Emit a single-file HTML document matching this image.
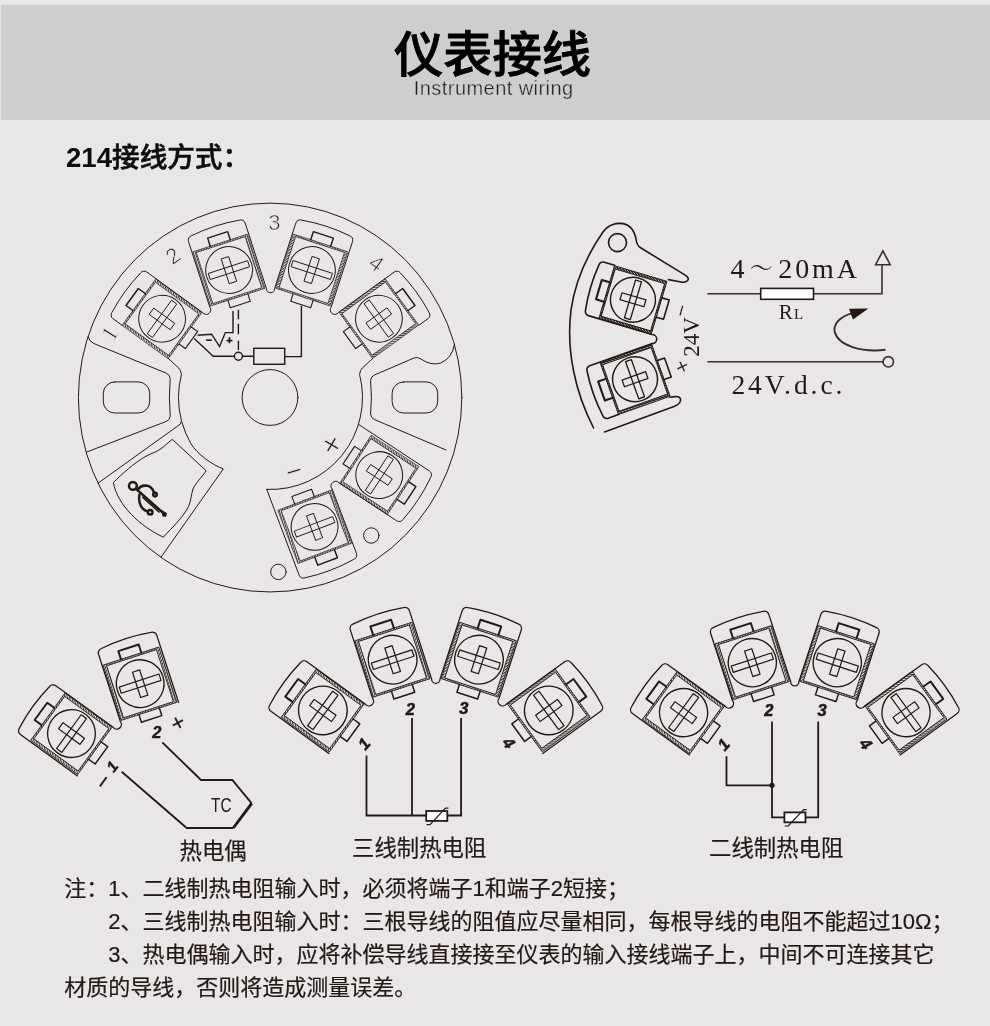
<!DOCTYPE html>
<html lang="zh-CN"><head><meta charset="utf-8"><title>仪表接线</title>
<style>
html,body{margin:0;padding:0}
body{width:990px;height:1026px;overflow:hidden;background:#e8e6e7;position:relative;font-family:"Liberation Sans","Noto Sans CJK SC",sans-serif;color:#1c1a1a}
.band{position:absolute;left:1px;top:5px;width:989px;height:115px;background:#cfcdce}
.t1{position:absolute;left:-2.5px;width:990px;text-align:center;top:22px;font-size:49.3px;line-height:66px;font-weight:500;color:#000;letter-spacing:0;-webkit-text-stroke:.85px #000}
.t2{position:absolute;left:-1.3px;width:990px;text-align:center;top:75px;font-size:20px;line-height:26px;color:#222;letter-spacing:.44px;-webkit-text-stroke:.35px #cfcdce}
.sub{position:absolute;left:66px;top:137.6px;font-size:27.6px;line-height:40px;font-weight:500;color:#0d0d0d;white-space:nowrap;-webkit-text-stroke:.6px #0d0d0d}
.cap{position:absolute;font-size:22.4px;line-height:30px;white-space:nowrap;color:#231815;-webkit-text-stroke:.2px #231815}
.note{position:absolute;left:64.3px;font-size:22px;line-height:33px;white-space:nowrap;color:#231815;-webkit-text-stroke:.2px #231815}
svg{position:absolute;left:0;top:0}
svg text{font-family:"Liberation Sans","Noto Sans CJK SC",sans-serif;fill:#231815}
.sf{font-family:"Liberation Serif","Noto Serif CJK SC",serif}
.wrap{position:absolute;left:0;top:0;width:990px;height:1026px;will-change:transform;background:#e8e6e7}
</style></head><body><div class="wrap">
<div class="band"></div>
<div class="t1">仪表接线</div>
<div class="t2">Instrument wiring</div>
<div class="sub"><span style="font-weight:700;-webkit-text-stroke:0">214</span>接线方式：</div>

<svg width="990" height="1026" viewBox="0 0 990 1026">
<defs><pattern id="hatch" patternUnits="userSpaceOnUse" width="2.1" height="2.1" patternTransform="rotate(40)"><rect width="0.95" height="2.1" fill="#3e3735"/></pattern><pattern id="hatch2" patternUnits="userSpaceOnUse" width="2.1" height="2.1" patternTransform="rotate(40)"><rect width="1.3" height="2.1" fill="#231815"/></pattern>
<g id="t" fill="none" stroke="#231815">
<path d="M-28.5,-28.5h57v57h-57z M-25.5,-26.8h51v53.6h-51z" fill="#dcd9d8" fill-rule="evenodd" stroke="none"/>
<path d="M-28.5,-28.5h57v57h-57z M-25.5,-26.8h51v53.6h-51z" fill="url(#hatch)" fill-rule="evenodd" stroke-width="0.60"/>
<circle r="23.4" stroke-width="1.00"/>
<rect x="-20.5" y="-3.2" width="41" height="6.4" stroke-width="0.90"/>
<rect x="-3.7" y="-13" width="7.4" height="26" stroke-width="0.90"/>
<path d="M-10.5,-28.5v-8.5h21v8.5" stroke-width="1.45"/>
<path d="M-10.5,28.5v7.8h21v-7.8" stroke-width="1.10"/>
</g>
<g id="tb" fill="none" stroke="#231815">
<path d="M-28.5,-28.5h57v57h-57z M-25.5,-26.8h51v53.6h-51z" fill="#dcd9d8" fill-rule="evenodd" stroke="none"/>
<path d="M-28.5,-28.5h57v57h-57z M-25.5,-26.8h51v53.6h-51z" fill="url(#hatch)" fill-rule="evenodd" stroke-width="0.78"/>
<circle r="23.4" stroke-width="1.30"/>
<rect x="-20.5" y="-3.2" width="41" height="6.4" stroke-width="1.17"/>
<rect x="-3.7" y="-13" width="7.4" height="26" stroke-width="1.17"/>
<path d="M-10.5,-28.5v-8.5h21v8.5" stroke-width="1.89"/>
<path d="M-10.5,28.5v7.8h21v-7.8" stroke-width="1.43"/>
</g>
<g id="tc" fill="none" stroke="#231815">
<path d="M-28.5,-28.5h57v57h-57z M-25.5,-26.8h51v53.6h-51z" fill="#b4b0af" fill-rule="evenodd" stroke="none"/>
<path d="M-28.5,-28.5h57v57h-57z M-25.5,-26.8h51v53.6h-51z" fill="url(#hatch2)" fill-rule="evenodd" stroke-width="0.90"/>
<circle r="23.4" stroke-width="1.50"/>
<rect x="-20.5" y="-3.2" width="41" height="6.4" stroke-width="1.35"/>
<rect x="-3.7" y="-13" width="7.4" height="26" stroke-width="1.35"/>
<path d="M-10.5,-28.5v-8.5h21v8.5" stroke-width="2.17"/>
<path d="M-10.5,28.5v7.8h21v-7.8" stroke-width="1.65"/>
</g>
</defs>
<g fill="none" stroke="#231815" stroke-width="1" stroke-linejoin="round" stroke-linecap="round">
<ellipse cx="270.1" cy="397.55" rx="191.7" ry="194.4"/>
<circle cx="270" cy="397.5" r="27.9"/>
<use href="#t" transform="translate(270.5,397.5) rotate(-54) translate(0,-134) scale(1)"/>
<use href="#t" transform="translate(270.5,397.5) rotate(-18) translate(0,-134) scale(1)"/>
<use href="#t" transform="translate(270.5,397.5) rotate(18) translate(0,-134) scale(1)"/>
<use href="#t" transform="translate(270.5,397.5) rotate(54) translate(0,-134) scale(1)"/>
<use href="#t" transform="translate(267.2,401.5) rotate(123.3) translate(0,-134) scale(1)"/>
<use href="#t" transform="translate(267.2,401.5) rotate(159.3) translate(0,-134) scale(1)"/>
<path d="M122.11,325.28 L112.96,318.64 A4.5,4.5 0 0 1 111.97,312.36 A180,180 0 0 1 140.54,273.04 A4.5,4.5 0 0 1 146.82,272.04 L202.72,312.66 A4.49,4.49 0 0 0 209.8,307.13 L188.45,241.42 A4.5,4.5 0 0 1 191.34,235.74 A180,180 0 0 1 239.46,220.11 A4.5,4.5 0 0 1 245.13,223 L266.49,288.72 A4.01,4.01 0 0 0 274.51,288.72 L295.87,223 A4.5,4.5 0 0 1 301.54,220.11 A180,180 0 0 1 349.66,235.74 A4.5,4.5 0 0 1 352.55,241.42 L331.2,307.13 A4.49,4.49 0 0 0 338.28,312.66 L394.18,272.04 A4.5,4.5 0 0 1 400.46,273.04 A180,180 0 0 1 429.03,312.36 A4.5,4.5 0 0 1 428.04,318.64 L418.89,325.28"/>
<path d="M358.52,424.4 L429.48,471.01 A4.5,4.5 0 0 1 430.77,477.24 A180,180 0 0 1 402.99,519.53 A4.5,4.5 0 0 1 396.76,520.82 L339.01,482.89 A4.59,4.59 0 0 0 332.09,488.91 L356.51,553.55 A4.5,4.5 0 0 1 353.89,559.35 A180,180 0 0 1 304.97,577.83 A4.5,4.5 0 0 1 299.17,575.21 L266.75,489.43"/>
<path d="M168.4,358.55 L178.6,367.9 Q180.8,369.8 181.43,374.47 A92,92 0 0 0 181.43,420.53 Q181.7,424.2 177.5,426.2 L98.1,483.1"/>
<path d="M181.8,421.93 A92,92 0 0 0 190.83,443.5 C196.8,453.9 212.5,465 223.3,468.9 L161.2,556.9"/>
<path d="M372.6,358.55 L362.4,367.9 Q360.2,369.8 359.57,374.47 A92,92 0 0 1 266.75,489.43"/>
<path d="M88,336.6 Q89.3,341.7 94,343.6 L166.3,373.2 Q170,374.8 170.2,378.6 Q168.6,397.5 170.2,416.2 Q170,420 166.3,421.4 L86.8,452"/>
<path d="M445.8,449.9 L374.6,419.6 Q370.8,418 370.6,414 Q372.2,397.5 370.6,380.5 Q370.8,376.6 374.4,375 L413.5,358.2 Q417.5,356.4 421,359 Q431,366 440.5,363 Q452,358.5 454.5,344.6"/>
<rect x="103.3" y="381.9" width="46.4" height="31.1" rx="11.5"/>
<rect x="392.1" y="381.9" width="45.6" height="31.1" rx="11.5"/>
<circle cx="278.4" cy="571.9" r="7.7"/><circle cx="371.3" cy="535.5" r="7.7"/>
<path d="M172.6,439.6 L206.2,470.8 C201,478 195,484 193,489 C191,495 191,501 188.5,506.5 C184,516 172,528 163.3,537.1 C141,527 117,505 113.4,482.5 C122,474 134,463 146,456.2 C152,453 157,452 161.7,448.2 Z"/>
</g>
<g fill="none" stroke="#231815" stroke-width="2.5" stroke-linecap="round" stroke-linejoin="round">
<circle cx="132.9" cy="485.9" r="3.9"/>
<path d="M135.8,488.6 L163,512.8"/>
<path d="M137.6,490.2 C139.5,486.6 143.5,485.2 147.2,485.8 C150.4,486.4 152.6,489 153.8,492"/>
<path d="M139.4,494.6 C138.6,500 139.6,505 142.6,508.4 C144.2,510.2 146,511 147.6,511.6"/>
<path d="M142.6,497.2 L159,512" stroke-width="1.6"/>
<circle cx="155" cy="494.6" r="1.8"/><circle cx="150.2" cy="512.2" r="2.3"/>
<path d="M162.2,511 L166.4,513.6 L165.6,516.2 L163,516 Z" fill="#231815" stroke-width="1.2"/>
</g>
<g fill="none" stroke="#231815" stroke-width="1.4" stroke-linejoin="miter">
<path d="M233,311 V332.6 H225.3 L219.6,346.6 L211.6,334.2 L197.6,335.2"/>
<path d="M194.2,338.6 L213.2,356.2 H234.4 M242.4,356.2 H253.8 M284.7,356.6 H301.4 V305.8"/>
<path d="M238.4,309.8 V350" stroke-dasharray="9.5,4.5,10.5,6.5,12,0"/>
<circle cx="238.4" cy="356.2" r="4"/>
<rect x="253.8" y="348.3" width="30.9" height="16"/>
</g>
<text transform="translate(108.9,333.3) rotate(-58)" y="8.28" font-size="23" font-weight="normal" text-anchor="middle" stroke="#e8e6e7" stroke-width="0.6" paint-order="fill" class="sf">1</text>
<text transform="translate(172.9,255.6) rotate(-36)" y="7.92" font-size="22" font-weight="normal" text-anchor="middle" stroke="#e8e6e7" stroke-width="0.7" paint-order="fill" >2</text>
<text transform="translate(274.4,222.2) rotate(0)" y="7.92" font-size="22" font-weight="normal" text-anchor="middle" stroke="#e8e6e7" stroke-width="0.7" paint-order="fill" >3</text>
<text transform="translate(376.7,262.9) rotate(36)" y="7.92" font-size="22" font-weight="normal" text-anchor="middle" stroke="#e8e6e7" stroke-width="0.7" paint-order="fill" >4</text>
<text transform="translate(331.5,444.7) rotate(31)" y="10.72" font-size="32" font-weight="normal" text-anchor="middle" stroke="#e8e6e7" stroke-width="0.85" paint-order="fill" >+</text>
<text transform="translate(293.8,471.3) rotate(-16.5)" y="9.38" font-size="28" font-weight="normal" text-anchor="middle" stroke="#e8e6e7" stroke-width="0.7" paint-order="fill" >−</text>
<text transform="translate(209,340.4) rotate(0)" y="3.96" font-size="11" font-weight="bold" text-anchor="middle" class="" stroke="#231815" stroke-width=".3">−</text>
<text transform="translate(229.5,340.4) rotate(0)" y="3.96" font-size="11" font-weight="bold" text-anchor="middle" class="" stroke="#231815" stroke-width=".3">+</text>
<g fill="none" stroke="#231815" stroke-width="1.6" stroke-linejoin="round" stroke-linecap="round">
<use href="#tc" transform="translate(756.3,336.3) rotate(-73.5) translate(0,-128.64) scale(0.96)"/>
<use href="#tc" transform="translate(756.3,336.3) rotate(-109.5) translate(0,-128.64) scale(0.96)"/>
<path d="M618.54,414.62 L608.32,418.24 A4.32,4.32 0 0 1 602.8,415.61 A172.8,172.8 0 0 1 587.1,371.27 A4.32,4.32 0 0 1 589.73,365.75 L652.26,343.61 A4.58,4.58 0 0 0 652.02,334.45 L588.42,315.61 A4.32,4.32 0 0 1 585.5,310.24 A172.8,172.8 0 0 1 598.86,265.13 A4.32,4.32 0 0 1 604.23,262.22 L614.63,265.3"/>
<path d="M593.6,428 C575,392 566,350 571,310 C575,283 587,255 603,232 C608,225 616,222.6 623,223.6 C631,225 635,232 636.4,241 Q637,245.6 641,248 L685.6,275.4 Q689.6,278 687.6,280.6 Q685.6,283 681,282 L668.5,279.6"/>
<circle cx="617.5" cy="242.6" r="9"/>
<path d="M604.5,432 L674,406.5 Q681.5,403.5 680.5,399 Q679.6,396 675,396.6 L670,397.2"/>
</g>
<g fill="none" stroke="#352f2e" stroke-width="1.6">
<path d="M707.3,293.8 H882 V264.7"/>
<path d="M875.6,264.7 H890.2 L882.9,250.9 Z"/>
<rect x="760.7" y="288.4" width="52.8" height="10.9" fill="#fff" stroke="#231815"/>
<path d="M707.3,361.8 H883"/>
<circle cx="888.3" cy="361.8" r="5.2"/>
<path d="M885.5,349.8 C862,352.5 838,346 834.6,331.5 C833,321 845,314 856,312.6" stroke-width="1.9"/>
<path d="M868.4,308.4 L849,308.8 L853,319.4 Z" fill="#231815" stroke="none"/>
</g>
<text transform="translate(730.5,277.5)" class="sf" font-size="28" letter-spacing="2.9">4<tspan font-size="23" dx="2.4" dy="-1.6">～</tspan><tspan dx="2.6" dy="1.6">20mA</tspan></text>
<text transform="translate(731.4,393.8) rotate(0)" y="0" font-size="27.5" font-weight="normal" text-anchor="start" class="sf" letter-spacing="2.95">24V.d.c.</text>
<text transform="translate(778.8,318.9)" class="sf" font-size="21">R<tspan font-size="15" dx="1.1">L</tspan></text>
<text transform="translate(698.8,356.8) rotate(-90)" y="0" font-size="23" font-weight="normal" text-anchor="start" class="sf" >24V</text>
<text transform="translate(681.3,310.4) rotate(-75)" y="7.04" font-size="21" font-weight="normal" text-anchor="middle" stroke="#e8e6e7" stroke-width="0.15" paint-order="fill" >−</text>
<text transform="translate(682.3,366.7) rotate(-25)" y="7.37" font-size="22" font-weight="normal" text-anchor="middle" stroke="#e8e6e7" stroke-width="0.15" paint-order="fill" >+</text>
<g fill="none" stroke="#231815" stroke-width="1.3" stroke-linejoin="round" stroke-linecap="round">
<use href="#tb" transform="translate(182.6,814.3) rotate(-54) translate(0,-137.35) scale(1.02)"/><use href="#tb" transform="translate(182.6,814.3) rotate(-18) translate(0,-137.35) scale(1.02)"/><path d="M77.46,775.92 L20.4,734.47 A4.61,4.61 0 0 1 19.38,728.02 A184.5,184.5 0 0 1 49.39,686.73 A4.61,4.61 0 0 1 55.83,685.71 L113.13,727.34 A4.6,4.6 0 0 0 120.39,721.67 L98.5,654.31 A4.61,4.61 0 0 1 101.46,648.5 A184.5,184.5 0 0 1 150.98,632.41 A4.61,4.61 0 0 1 156.8,635.37 L178.59,702.44"/>
<use href="#tb" transform="translate(435.8,792.5) rotate(-54) translate(0,-139.63) scale(1.04)"/><use href="#tb" transform="translate(435.8,792.5) rotate(-18) translate(0,-139.63) scale(1.04)"/><use href="#tb" transform="translate(435.8,792.5) rotate(18) translate(0,-139.63) scale(1.04)"/><use href="#tb" transform="translate(435.8,792.5) rotate(54) translate(0,-139.63) scale(1.04)"/><path d="M328.91,753.48 L270.91,711.34 A4.69,4.69 0 0 1 269.88,704.79 A187.56,187.56 0 0 1 300.38,662.81 A4.69,4.69 0 0 1 306.93,661.77 L365.18,704.1 A4.68,4.68 0 0 0 372.56,698.34 L350.31,629.86 A4.69,4.69 0 0 1 353.32,623.95 A187.56,187.56 0 0 1 403.46,607.66 A4.69,4.69 0 0 1 409.37,610.67 L431.62,679.15 A4.18,4.18 0 0 0 439.98,679.15 L462.23,610.67 A4.69,4.69 0 0 1 468.14,607.66 A187.56,187.56 0 0 1 518.28,623.95 A4.69,4.69 0 0 1 521.29,629.86 L499.04,698.34 A4.68,4.68 0 0 0 506.42,704.1 L564.67,661.77 A4.69,4.69 0 0 1 571.22,662.81 A187.56,187.56 0 0 1 601.72,704.79 A4.69,4.69 0 0 1 600.69,711.34 L542.69,753.48"/>
<use href="#tb" transform="translate(794.8,793.4) rotate(-54) translate(0,-137.48) scale(1.03)"/><use href="#tb" transform="translate(794.8,793.4) rotate(-18) translate(0,-137.48) scale(1.03)"/><use href="#tb" transform="translate(794.8,793.4) rotate(18) translate(0,-137.48) scale(1.03)"/><use href="#tb" transform="translate(794.8,793.4) rotate(54) translate(0,-137.48) scale(1.03)"/><path d="M689.55,754.98 L632.45,713.49 A4.62,4.62 0 0 1 631.42,707.04 A184.68,184.68 0 0 1 661.46,665.7 A4.62,4.62 0 0 1 667.91,664.68 L725.26,706.35 A4.61,4.61 0 0 0 732.53,700.68 L710.62,633.26 A4.62,4.62 0 0 1 713.58,627.44 A184.68,184.68 0 0 1 762.96,611.4 A4.62,4.62 0 0 1 768.77,614.36 L790.68,681.79 A4.12,4.12 0 0 0 798.92,681.79 L820.83,614.36 A4.62,4.62 0 0 1 826.64,611.4 A184.68,184.68 0 0 1 876.02,627.44 A4.62,4.62 0 0 1 878.98,633.26 L857.07,700.68 A4.61,4.61 0 0 0 864.34,706.35 L921.69,664.68 A4.62,4.62 0 0 1 928.14,665.7 A184.68,184.68 0 0 1 958.18,707.04 A4.62,4.62 0 0 1 957.15,713.49 L900.05,754.98"/>
</g>
<g fill="none" stroke="#231815" stroke-width="1.8" stroke-linejoin="miter">
<path d="M121.7,771.7 L186.7,828 H233.3"/><path d="M233.3,828 L251.7,803.3" stroke-width="2.9"/><path d="M251.7,803.3 L232.3,780 H201 L162.3,742.3"/>
<path d="M366.5,755.5 V815.5 H426.2 M412,718 V815.5 M461.1,718 V815.5 H447.3"/>
<rect x="426.2" y="811" width="21.1" height="9.9" fill="#fff"/>
<path d="M426.6,824.6 H430 L445.5,808.2 H448.4" stroke-width="1.2"/>
<path d="M726.5,756.2 V785.3 H772 M772,721.6 V817.3 H784.4 M818.2,721.6 V817.3 H805.5"/>
<rect x="784.4" y="812.4" width="21.1" height="9.9" fill="#fff"/>
<path d="M784.8,826 H788.2 L803.7,809.6 H806.6" stroke-width="1.2"/>
<circle cx="772" cy="785.3" r="2.6" fill="#231815" stroke="none"/>
</g>
<text transform="translate(221.3,811.7) rotate(0)" y="0" font-size="20.5" font-weight="normal" text-anchor="middle" class="" textLength="20.5" lengthAdjust="spacingAndGlyphs">TC</text>
<text transform="translate(156.9,731.7) rotate(0)" y="5.94" font-size="16.5" font-weight="bold" text-anchor="middle" class="" font-style="italic" stroke="#231815" stroke-width=".4">2</text>
<text transform="translate(177.7,722.7) rotate(-28)" y="7.71" font-size="23" font-weight="normal" text-anchor="middle" stroke="#231815" stroke-width="0.25" paint-order="fill" >+</text>
<text transform="translate(111.9,766.5) rotate(-52)" y="5.58" font-size="15.5" font-weight="bold" text-anchor="middle" class="" font-style="italic" stroke="#231815" stroke-width=".4">1</text>
<text transform="translate(103.3,781.7) rotate(-54)" y="7.71" font-size="23" font-weight="normal" text-anchor="middle" stroke="#231815" stroke-width="0.25" paint-order="fill" >−</text>
<text transform="translate(364,743.6) rotate(-48)" y="5.94" font-size="16.5" font-weight="bold" text-anchor="middle" class="" font-style="italic" stroke="#231815" stroke-width=".5">1</text>
<text transform="translate(410.3,708.6) rotate(0)" y="5.94" font-size="16.5" font-weight="bold" text-anchor="middle" class="" font-style="italic" stroke="#231815" stroke-width=".5">2</text>
<text transform="translate(463.9,707.8) rotate(0)" y="5.94" font-size="16.5" font-weight="bold" text-anchor="middle" class="" font-style="italic" stroke="#231815" stroke-width=".5">3</text>
<text transform="translate(509.1,742.7) rotate(50)" y="5.94" font-size="16.5" font-weight="bold" text-anchor="middle" class="" font-style="italic" stroke="#231815" stroke-width=".5">4</text>
<text transform="translate(723.4,744.4) rotate(-48)" y="5.94" font-size="16.5" font-weight="bold" text-anchor="middle" class="" font-style="italic" stroke="#231815" stroke-width=".5">1</text>
<text transform="translate(768.9,710.4) rotate(0)" y="5.94" font-size="16.5" font-weight="bold" text-anchor="middle" class="" font-style="italic" stroke="#231815" stroke-width=".5">2</text>
<text transform="translate(822.1,709.6) rotate(0)" y="5.94" font-size="16.5" font-weight="bold" text-anchor="middle" class="" font-style="italic" stroke="#231815" stroke-width=".5">3</text>
<text transform="translate(866,743.8) rotate(50)" y="5.94" font-size="16.5" font-weight="bold" text-anchor="middle" class="" font-style="italic" stroke="#231815" stroke-width=".5">4</text>
</svg>
<div class="cap" style="left:179.5px;top:836.5px">热电偶</div>
<div class="cap" style="left:352px;top:834.2px">三线制热电阻</div>
<div class="cap" style="left:709px;top:834.2px">二线制热电阻</div>
<div class="note" style="top:872px">注：1、二线制热电阻输入时，必须将端子1和端子2短接；</div>
<div class="note" style="top:905px;left:108.3px">2、三线制热电阻输入时：三根导线的阻值应尽量相同，每根导线的电阻不能超过10Ω；</div>
<div class="note" style="top:938px;left:108.3px">3、热电偶输入时，应将补偿导线直接接至仪表的输入接线端子上，中间不可连接其它</div>
<div class="note" style="top:971px">材质的导线，否则将造成测量误差。</div>
</div></body></html>
